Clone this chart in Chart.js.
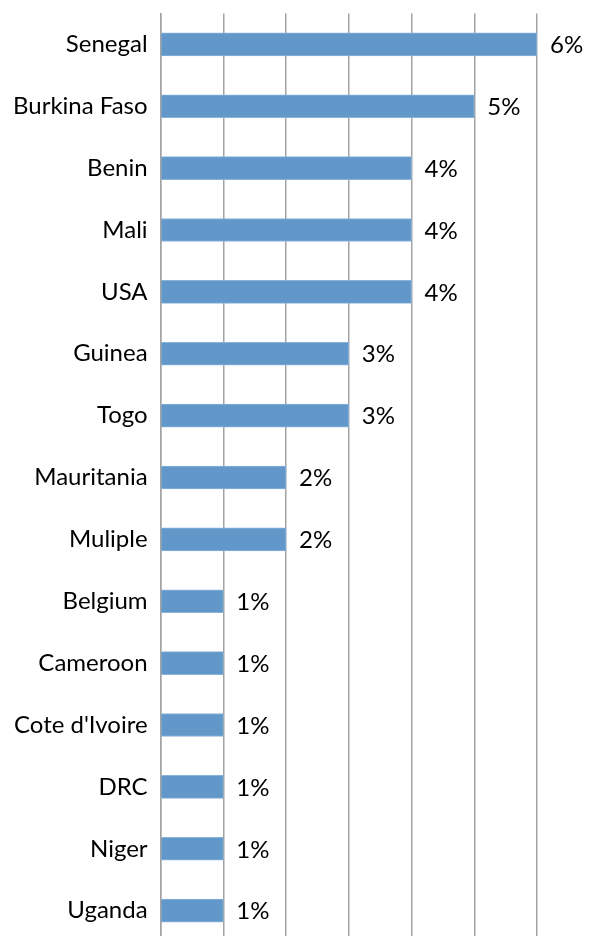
<!DOCTYPE html>
<html>
<head>
<meta charset="utf-8">
<script src="https://cdn.jsdelivr.net/npm/chart.js@4"></script>
<style>
  html, body { margin: 0; padding: 0; background: #fff; overflow: hidden; }
  #wrap { width: 592px; height: 983px; position: relative; margin-top: -14px; }
</style>
</head>
<body>
<div id="wrap"><canvas id="countryChart"></canvas></div>
<script>
// 국가별 비율 (%)
const countries = ["Senegal", "Burkina Faso", "Benin", "Mali", "USA", "Guinea", "Togo",
    "Mauritania", "Muliple", "Belgium", "Cameroon", "Cote d'Ivoire", "DRC", "Niger", "Uganda"];
const shares = [6, 5, 4, 4, 4, 3, 3, 2, 2, 1, 1, 1, 1, 1, 1];
const xTicks = [0, 1, 2, 3, 4, 5, 6];

const labelFont = { family: "Lato", size: 24 };

// 막대 끝에 % 값 표시
const valueLabels = {
    id: "valueLabels",
    afterDatasetsDraw(chart) {
        const ctx = chart.ctx;
        const meta = chart.getDatasetMeta(0);
        ctx.save();
        ctx.font = `${labelFont.size}px ${labelFont.family}`;
        ctx.fillStyle = "#000";
        ctx.textAlign = "left";
        ctx.textBaseline = "middle";
        meta.data.forEach((bar, i) => {
            ctx.fillText(`${shares[i]}%`, bar.x + 13, bar.y + 1);
        });
        ctx.restore();
    }
};

new Chart(document.getElementById("countryChart"), {
    type: "bar",
    data: {
        labels: countries,
        datasets: [{
            data: shares,
            backgroundColor: "#6197c9",
            borderColor: "#8ab3da",
            borderWidth: 1,
            borderSkipped: "left",
            barThickness: 23
        }]
    },
    options: {
        indexAxis: "y",
        responsive: true,
        maintainAspectRatio: false,
        animation: false,
        layout: { padding: { top: 1, right: 55, left: 0, bottom: 0 } },
        plugins: {
            legend: { display: false },
            tooltip: { enabled: false }
        },
        scales: {
            x: {
                min: 0,
                max: 6,
                afterBuildTicks: axis => { axis.ticks = xTicks.map(v => ({ value: v })); },
                ticks: { display: false },
                grid: { color: "#a3a3a3", lineWidth: 1.5, drawTicks: false },
                border: { display: false }
            },
            y: {
                ticks: { color: "#000", font: labelFont, padding: 13 },
                grid: { display: false, drawTicks: false },
                border: { color: "#a3a3a3", width: 1.5 }
            }
        }
    },
    plugins: [valueLabels]
});
</script>
</body>
</html>
